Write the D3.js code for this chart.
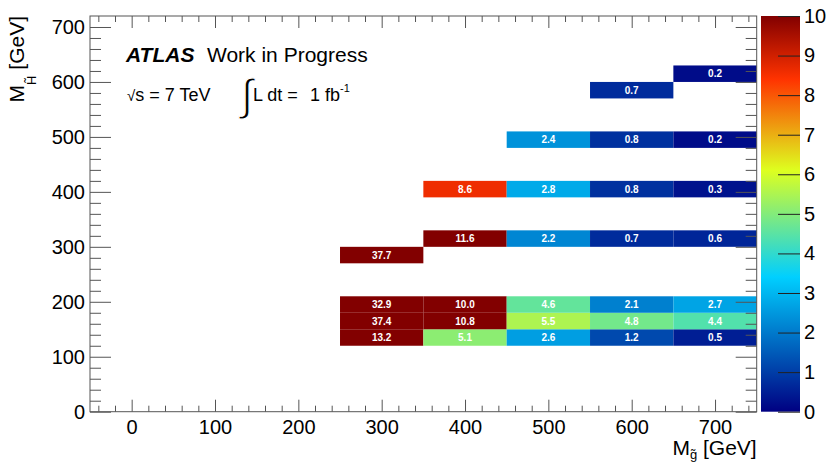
<!DOCTYPE html>
<html><head><meta charset="utf-8">
<script src="https://cdn.jsdelivr.net/npm/d3@7"></script>
<style>
body{margin:0;background:#fff}
svg text{font-family:"Liberation Sans",Arial,Helvetica,sans-serif}
</style>
</head><body>
<svg id="chart" width="829" height="462"></svg>
<script>
// gluino mass bin centres (x), higgsino mass bin centres (y), values
const gluinoMass = [300,400,500,600,700, 300,400,500,600,700, 300,400,500,600,700, 300, 400,500,600,700, 400,500,600,700, 500,600,700, 600, 700];
const higgsinoMass = [135,135,135,135,135, 165,165,165,165,165, 195,195,195,195,195, 285, 315,315,315,315, 405,405,405,405, 495,495,495, 585, 615];
const values = [13.2,5.1,2.6,1.2,0.5, 37.4,10.8,5.5,4.8,4.4, 32.9,10.0,4.6,2.1,2.7, 37.7, 11.6,2.2,0.7,0.6, 8.6,2.8,0.8,0.3, 2.4,0.8,0.2, 0.7, 0.2];
const xTicks = [0,100,200,300,400,500,600,700];
const yTicks = [0,100,200,300,400,500,600,700];
const zTicks = [0,1,2,3,4,5,6,7,8,9,10];
const paletteStops = [0,3.4,6.1,8.4,10];
const paletteColors = ["rgb(0,0,130)","rgb(0,207,255)","rgb(222,255,31)","rgb(255,51,0)","rgb(130,0,0)"];

const binW = 100, binH = 30;
const svg = d3.select("#chart");
const L = 90, R = 756.7, T = 16, B = 411.7;
const x = d3.scaleLinear().domain([-50,750]).range([L,R]);
const y = d3.scaleLinear().domain([0,720]).range([B,T]);
const color = d3.scaleLinear().domain(paletteStops).range(paletteColors).clamp(true);
const axisColor = "#555";

const cells = values.map((v,i)=>({x:gluinoMass[i], y:higgsinoMass[i], v}));

// cells
svg.append("g").selectAll("rect").data(cells).join("rect")
  .attr("x", d=>x(d.x-binW/2)).attr("width", d=>x(d.x+binW/2)-x(d.x-binW/2))
  .attr("y", d=>y(d.y+binH/2)).attr("height", d=>y(d.y-binH/2)-y(d.y+binH/2))
  .attr("fill", d=>color(d.v));

svg.append("g").selectAll("text").data(cells).join("text")
  .attr("x", d=>x(d.x)).attr("y", d=>y(d.y))
  .attr("dy","0.36em").attr("text-anchor","middle")
  .attr("font-size",10).attr("font-weight","bold").attr("fill","#fff")
  .text(d=>d.v.toFixed(1));

// axes
function styleAxis(g){ g.select(".domain").remove(); g.selectAll("line").attr("stroke",axisColor); g.selectAll("text").attr("fill","#000").attr("font-size",20).attr("font-family","Liberation Sans, Arial, sans-serif"); }
const xMinor = d3.range(-40,750,20).filter(v=>v%100!==0);
const yMinor = d3.range(20,720,20).filter(v=>v%100!==0);

svg.append("g").attr("transform",`translate(0,${B})`)
  .call(d3.axisBottom(x).tickValues(xTicks).tickSize(-12).tickPadding(8).tickFormat(d3.format("d"))).call(styleAxis);
svg.append("g").attr("transform",`translate(0,${B})`)
  .call(d3.axisBottom(x).tickValues(xMinor).tickSize(-6).tickFormat("")).call(styleAxis);
svg.append("g").attr("transform",`translate(0,${T})`)
  .call(d3.axisTop(x).tickValues(xTicks).tickSize(-12).tickFormat("")).call(styleAxis);
svg.append("g").attr("transform",`translate(0,${T})`)
  .call(d3.axisTop(x).tickValues(xMinor).tickSize(-6).tickFormat("")).call(styleAxis);

svg.append("g").attr("transform",`translate(${L},0)`)
  .call(d3.axisLeft(y).tickValues(yTicks).tickSize(-21).tickPadding(5).tickFormat(d3.format("d"))).call(styleAxis);
svg.append("g").attr("transform",`translate(${L},0)`)
  .call(d3.axisLeft(y).tickValues(yMinor).tickSize(-11).tickFormat("")).call(styleAxis);
svg.append("g").attr("transform",`translate(${R},0)`)
  .call(d3.axisRight(y).tickValues(yTicks).tickSize(-21).tickFormat("")).call(styleAxis);
svg.append("g").attr("transform",`translate(${R},0)`)
  .call(d3.axisRight(y).tickValues(yMinor).tickSize(-11).tickFormat("")).call(styleAxis);

svg.append("rect").attr("x",L).attr("y",T).attr("width",R-L).attr("height",B-T)
  .attr("fill","none").attr("stroke",axisColor);

// colour bar
const CL = 761, CR = 800;
const z = d3.scaleLinear().domain([0,10]).range([B,T]);
const grad = svg.append("defs").append("linearGradient").attr("id","pal")
  .attr("x1",0).attr("x2",0).attr("y1",1).attr("y2",0);
grad.selectAll("stop").data(paletteStops).join("stop")
  .attr("offset",d=>d/10).attr("stop-color",(d,i)=>paletteColors[i]);
svg.append("rect").attr("x",CL).attr("y",T).attr("width",CR-CL).attr("height",B-T).attr("fill","url(#pal)");
svg.append("g").attr("transform",`translate(${CR},0)`)
  .call(d3.axisRight(z).tickValues(zTicks).tickSize(-22).tickPadding(4).tickFormat(d3.format("d")))
  .call(g=>{g.select(".domain").remove(); g.selectAll("line").attr("stroke","#222");
    g.selectAll("text").attr("font-size",20).attr("fill","#000").attr("font-family","Liberation Sans, Arial, sans-serif");});

// axis titles
const xt = svg.append("text").attr("x",R).attr("y",455).attr("text-anchor","end").attr("font-size",21);
xt.append("tspan").text("M");
xt.append("tspan").attr("font-size",13).attr("dy",4).text("g\u0303");
xt.append("tspan").attr("dy",-4).text(" [GeV]");

const yt = svg.append("text").attr("transform",`translate(24,${T}) rotate(-90)`).attr("text-anchor","end").attr("font-size",21);
yt.append("tspan").text("M");
yt.append("tspan").attr("font-size",13).attr("dy",12).text("H\u0303");
yt.append("tspan").attr("dy",-12).text(" [GeV]");

// labels
const t1 = svg.append("text").attr("x",126).attr("y",62).attr("font-size",21);
t1.append("tspan").attr("font-weight","bold").attr("font-style","italic").text("ATLAS");
t1.append("tspan").attr("x",207).text("Work in Progress");

const t2 = svg.append("text").attr("x",127).attr("y",100.5).attr("font-size",18);
t2.append("tspan").attr("font-size",15).text("\u221a");
t2.append("tspan").text("s = 7 TeV");
svg.append("text").attr("x",241).attr("y",110).attr("font-size",44)
  .attr("font-family","DejaVu Sans").attr("font-weight",200)
  .attr("stroke","#fff").attr("stroke-width",1.2).attr("paint-order","normal").text("\u222b");
const t3 = svg.append("text").attr("x",253).attr("y",100.5).attr("font-size",18);
t3.append("tspan").text("L dt =");
t3.append("tspan").attr("x",310).text("1 fb");
t3.append("tspan").attr("font-size",11).attr("dy",-9).text("-1");
</script>
</body></html>
